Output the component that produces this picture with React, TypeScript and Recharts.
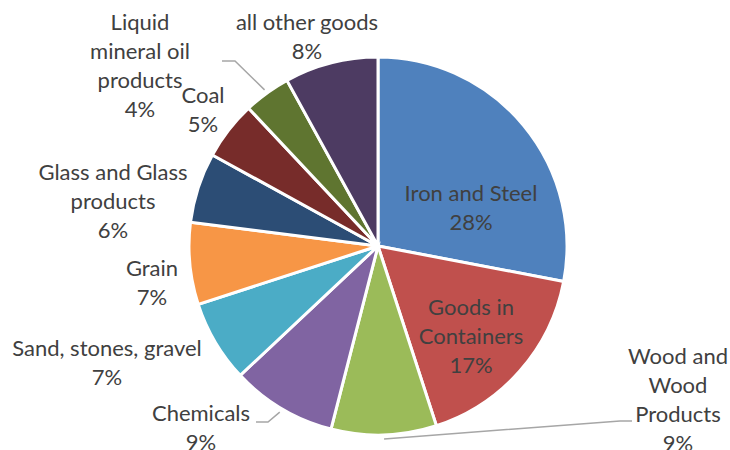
import { Cell, Pie, PieChart } from "recharts";

const CATEGORIES = [
  "Iron and Steel",
  "Goods in Containers",
  "Wood and Wood Products",
  "Chemicals",
  "Sand, stones, gravel",
  "Grain",
  "Glass and Glass products",
  "Coal",
  "Liquid mineral oil products",
  "all other goods",
];
const SHARES = [28, 17, 9, 9, 7, 7, 6, 5, 4, 8];
const COLORS = [
  "#4F81BD",
  "#C0504D",
  "#9BBB59",
  "#8064A2",
  "#4BACC6",
  "#F79646",
  "#2C4D75",
  "#772C2A",
  "#5F7530",
  "#4D3B62",
];

type LabelLayout = {
  lines: string[];
  dx: number; // label center, relative to pie center
  dy: number; // first line center, relative to pie center
  leader?: [number, number][]; // elbow + end, relative to pie center
};

// manual label placement, like the Excel original
const LABEL_LAYOUT: Record<string, LabelLayout> = {
  "Iron and Steel": { lines: ["Iron and Steel"], dx: 93, dy: -53 },
  "Goods in Containers": { lines: ["Goods in", "Containers"], dx: 93, dy: 61 },
  "Wood and Wood Products": {
    lines: ["Wood and", "Wood", "Products"],
    dx: 300,
    dy: 110,
    leader: [[242, 175], [254, 175]],
  },
  Chemicals: { lines: ["Chemicals"], dx: -177, dy: 167, leader: [[-110, 176], [-122, 176]] },
  "Sand, stones, gravel": { lines: ["Sand, stones, gravel"], dx: -271, dy: 102 },
  Grain: { lines: ["Grain"], dx: -226, dy: 22 },
  "Glass and Glass products": { lines: ["Glass and Glass", "products"], dx: -265, dy: -74 },
  Coal: { lines: ["Coal"], dx: -175, dy: -151 },
  "Liquid mineral oil products": {
    lines: ["Liquid", "mineral oil", "products"],
    dx: -238,
    dy: -224,
    leader: [[-143, -185], [-156, -185]],
  },
  "all other goods": { lines: ["all other goods"], dx: -71, dy: -224 },
};

const data = CATEGORIES.map((name, i) => ({ name, value: SHARES[i] }));

const RADIAN = Math.PI / 180;
const LINE_HEIGHT = 29;
const TEXT_COLOR = "#404040";

function renderLabel(props: any) {
  const { cx, cy, midAngle, outerRadius, name, percent } = props;
  const layout = LABEL_LAYOUT[name];
  if (!layout) return null;
  const rows = [...layout.lines, `${Math.round(percent * 100)}%`];
  const x = cx + layout.dx;
  let leader = null;
  if (layout.leader) {
    const r = outerRadius + 4;
    const sx = cx + r * Math.cos(-midAngle * RADIAN);
    const sy = cy + r * Math.sin(-midAngle * RADIAN);
    const pts = [[sx, sy], ...layout.leader.map(([px, py]) => [cx + px, cy + py])];
    leader = (
      <polyline
        points={pts.map((p) => p.join(",")).join(" ")}
        fill="none"
        stroke="#A6A6A6"
        strokeWidth={1.5}
      />
    );
  }
  return (
    <g key={name}>
      {leader}
      {rows.map((row, i) => (
        <text
          key={i}
          x={x}
          y={cy + layout.dy + i * LINE_HEIGHT}
          dy="0.35em"
          textAnchor="middle"
          fill={TEXT_COLOR}
          fontSize={22}
          fontFamily="Lato, 'Open Sans', sans-serif"
        >
          {row}
        </text>
      ))}
    </g>
  );
}

export default function App() {
  return (
    <div style={{ position: "fixed", left: 0, top: 0, background: "#fff" }}>
      <PieChart width={730} height={450} margin={{ top: 0, right: 0, bottom: 0, left: 0 }}>
        <Pie
          data={data}
          dataKey="value"
          nameKey="name"
          cx={378}
          cy={246}
          outerRadius={189}
          startAngle={90}
          endAngle={-270}
          stroke="#FFFFFF"
          strokeWidth={3}
          label={renderLabel}
          labelLine={false}
          isAnimationActive={false}
        >
          {data.map((d, i) => (
            <Cell key={d.name} fill={COLORS[i]} />
          ))}
        </Pie>
      </PieChart>
    </div>
  );
}
